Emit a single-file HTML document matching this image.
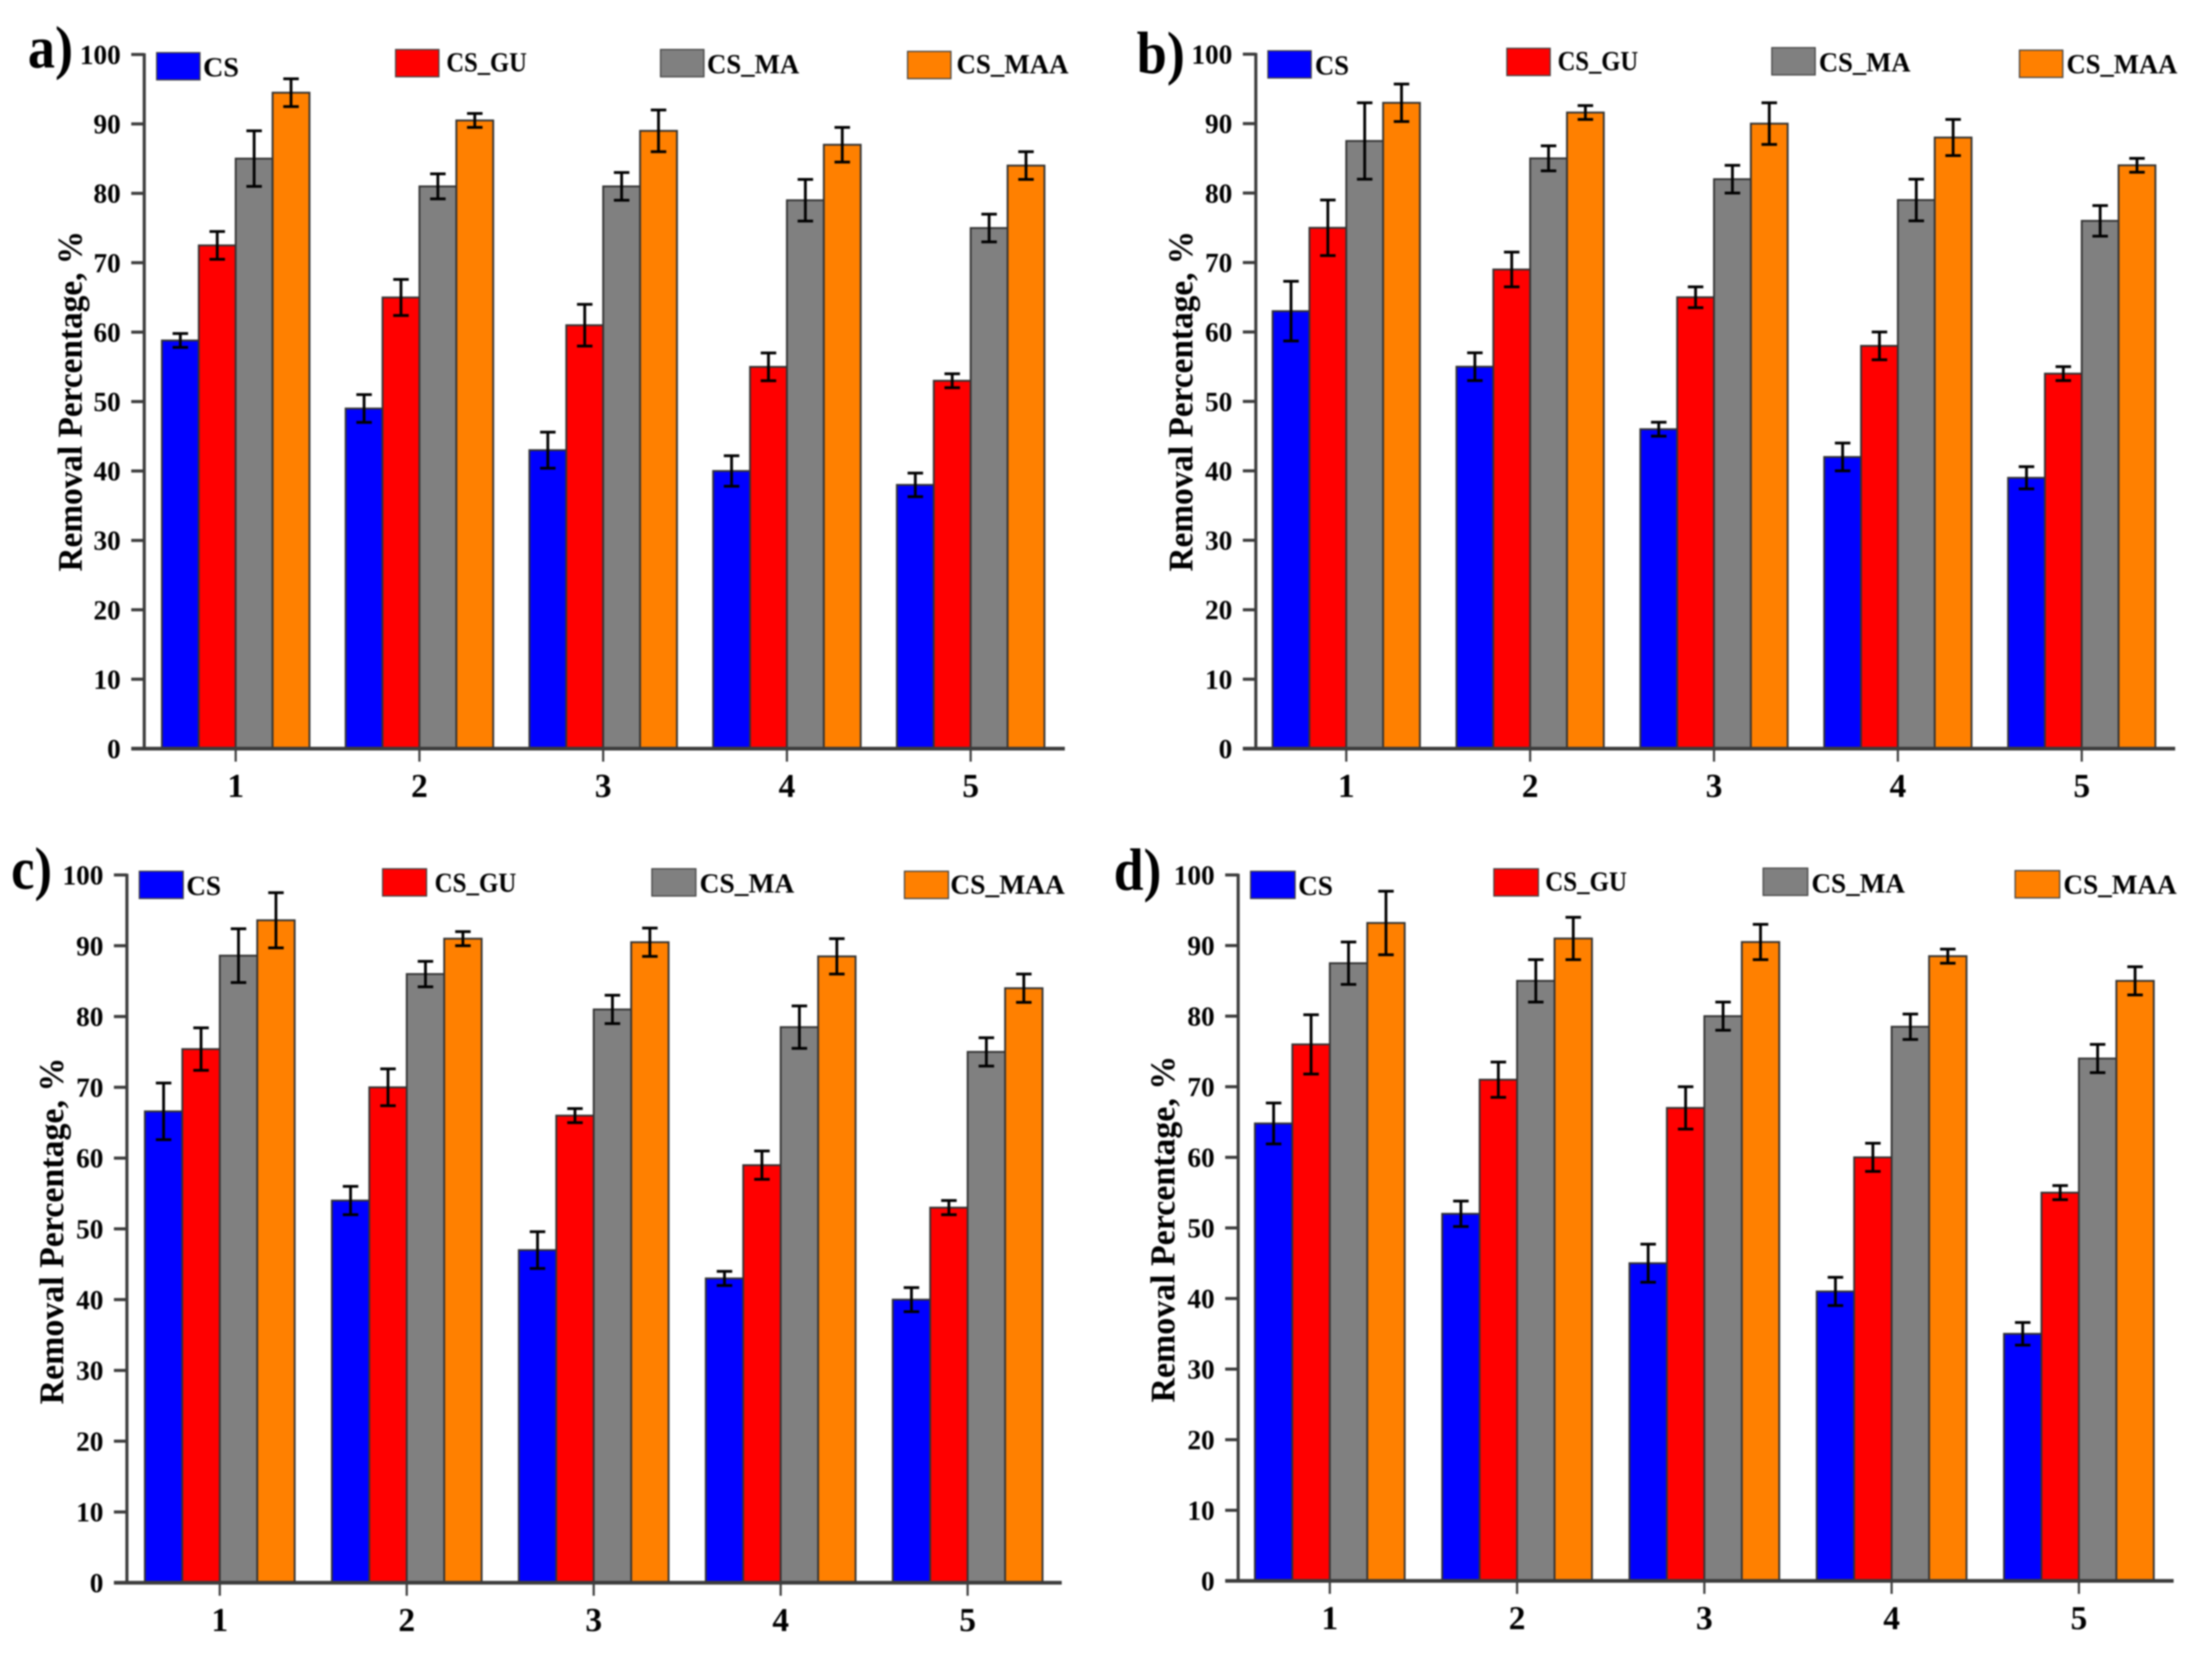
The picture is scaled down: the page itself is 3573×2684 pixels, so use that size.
<!DOCTYPE html>
<html lang="en">
<head>
<meta charset="utf-8">
<title>Removal Percentage panels</title>
<style>
html,body{margin:0;padding:0;background:#fff;}
svg{display:block;filter:blur(1.3px);}
text{font-family:"Liberation Serif",serif;font-weight:700;fill:#000;}
</style>
</head>
<body>
<svg id="figure" xmlns="http://www.w3.org/2000/svg" width="3573" height="2684" viewBox="0 0 3573 2684">
<rect width="3573" height="2684" fill="#fff"></rect>
</svg>
<script>
const categories = ['1', '2', '3', '4', '5'];
const yTicks = [0, 10, 20, 30, 40, 50, 60, 70, 80, 90, 100];
const seriesNames = ['CS', 'CS_GU', 'CS_MA', 'CS_MAA'];
const yAxisLabel = 'Removal Percentage, %';

const panelACS = [58.8, 49, 43, 40, 38];
const panelACSErr = [1, 2, 2.6, 2.2, 1.7];
const panelAGU = [72.5, 65, 61, 55, 53];
const panelAGUErr = [2, 2.6, 3, 2, 1];
const panelAMA = [85, 81, 81, 79, 75];
const panelAMAErr = [4, 1.8, 2, 3, 2];
const panelAMAA = [94.5, 90.5, 89, 87, 84];
const panelAMAAErr = [2, 1, 3, 2.5, 2];

const panelBCS = [63, 55, 46, 42, 39];
const panelBCSErr = [4.3, 2, 1, 2, 1.6];
const panelBGU = [75, 69, 65, 58, 54];
const panelBGUErr = [4, 2.5, 1.5, 2, 1];
const panelBMA = [87.5, 85, 82, 79, 76];
const panelBMAErr = [5.5, 1.8, 2, 3, 2.2];
const panelBMAA = [93, 91.6, 90, 88, 84];
const panelBMAAErr = [2.7, 1, 3, 2.6, 1];

const panelCCS = [66.6, 54, 47, 43, 40];
const panelCCSErr = [4, 2, 2.6, 1, 1.7];
const panelCGU = [75.4, 70, 66, 59, 53];
const panelCGUErr = [3, 2.6, 1, 2, 1];
const panelCMA = [88.6, 86, 81, 78.5, 75];
const panelCMAErr = [3.8, 1.8, 2, 3, 2];
const panelCMAA = [93.6, 91, 90.5, 88.5, 84];
const panelCMAAErr = [3.9, 1, 2, 2.5, 2];

const panelDCS = [64.8, 52, 45, 41, 35];
const panelDCSErr = [2.9, 1.8, 2.7, 2, 1.6];
const panelDGU = [76, 71, 67, 60, 55];
const panelDGUErr = [4.2, 2.5, 3, 2, 1];
const panelDMA = [87.5, 85, 80, 78.5, 74];
const panelDMAErr = [3, 3, 2, 1.8, 2];
const panelDMAA = [93.2, 91, 90.5, 88.5, 85];
const panelDMAAErr = [4.5, 3, 2.5, 1, 2];

const SVGNS = 'http://www.w3.org/2000/svg';
const svg = document.getElementById('figure');
const seriesColors = ['#0000ff', '#ff0000', '#808080', '#ff8000'];

function make(parent, tag, attrs, text) {
  const el = document.createElementNS(SVGNS, tag);
  for (const k in attrs) el.setAttribute(k, attrs[k]);
  if (text !== undefined) el.textContent = text;
  parent.appendChild(el);
  return el;
}

function drawPanel(cfg) {
  const g = make(svg, 'g', {});
  
  

  const yScale = v => cfg.yBase - (cfg.yBase - cfg.yTop) * v / 100;
  const xScale = i => cfg.tick1 + cfg.step * i;

  cfg.values.forEach((vals, s) => {
    const sg = make(g, 'g', {});
    
    
    vals.forEach((v, i) => {
      const left = xScale(i) + (s - 2) * cfg.barW;
      const bar = make(sg, 'rect', {
        x: left, y: yScale(v), width: cfg.barW, height: cfg.yBase - yScale(v),
        fill: seriesColors[s], stroke: '#333', 'stroke-width': 3
      });
      
      
    });
  });

  cfg.values.forEach((vals, s) => {
    vals.forEach((v, i) => {
      const cx = xScale(i) + (s - 1.5) * cfg.barW;
      const e = cfg.errors[s][i];
      const top = yScale(v + e);
      const bot = yScale(v - e);
      const eg = make(g, 'path', {
        d: 'M' + cx + ' ' + top + 'V' + bot + 'M' + (cx - 12.5) + ' ' + top + 'H' + (cx + 12.5) + 'M' + (cx - 12.5) + ' ' + bot + 'H' + (cx + 12.5),
        fill: 'none', stroke: '#000', 'stroke-width': 4.5
      });
      
      
    });
  });

  const yAxis = make(g, 'line', {
    x1: cfg.axisX, x2: cfg.axisX, y1: cfg.yTop - 2, y2: cfg.yBase,
    stroke: '#3c3c3c', 'stroke-width': 5
  });
  
  

  const xAxis = make(g, 'line', {
    x1: cfg.axisX - 21, x2: cfg.axisEnd, y1: cfg.yBase, y2: cfg.yBase,
    stroke: '#3c3c3c', 'stroke-width': 6
  });
  
  

  yTicks.forEach(t => {
    const y = yScale(t);
    const tick = make(g, 'line', {
      x1: cfg.axisX - 21, x2: cfg.axisX, y1: y, y2: y,
      stroke: '#3c3c3c', 'stroke-width': 5
    });
    
    
    const label = make(g, 'text', {
      x: cfg.axisX - 38, y: y + 15, 'text-anchor': 'end', 'font-size': 44
    }, String(t));
    
    
  });

  categories.forEach((c, i) => {
    const x = xScale(i);
    const tick = make(g, 'line', {
      x1: x, x2: x, y1: cfg.yBase, y2: cfg.yBase + 21,
      stroke: '#3c3c3c', 'stroke-width': 3.5
    });
    
    
    const label = make(g, 'text', {
      x: x, y: cfg.yBase + 78, 'text-anchor': 'middle', 'font-size': 54
    }, c);
    
    
  });

  const title = make(g, 'text', {
    transform: 'translate(' + cfg.titleX + ' ' + cfg.titleY + ') rotate(-90)',
    'text-anchor': 'middle', 'font-size': 56,
    textLength: cfg.titleLen, lengthAdjust: 'spacingAndGlyphs'
  }, yAxisLabel);
  
  

  const tag = make(g, 'text', {
    x: cfg.tagX, y: cfg.tagY, 'font-size': 96,
    textLength: cfg.tagLen, lengthAdjust: 'spacingAndGlyphs'
  }, cfg.id + ')');
  
  

  cfg.legend.forEach((e, s) => {
    const lg = make(g, 'g', {});
    
    
    const sw = make(lg, 'rect', {
      x: e.sx, y: e.sy, width: cfg.swatchW, height: 44,
      fill: seriesColors[s], stroke: '#444', 'stroke-width': 2
    });
    
    
    const lbl = make(lg, 'text', {
      x: e.tx, y: e.ty, 'font-size': 44,
      textLength: e.tl, lengthAdjust: 'spacingAndGlyphs'
    }, seriesNames[s]);
    
    
  });
}

drawPanel({
  id: 'a', axisX: 233, axisEnd: 1720, yTop: 88, yBase: 1209, tick1: 380.7, step: 296.8, barW: 59.6, swatchW: 70,
  titleX: 132, titleY: 648, titleLen: 550, tagX: 45, tagY: 109, tagLen: 73,
  values: [panelACS, panelAGU, panelAMA, panelAMAA],
  errors: [panelACSErr, panelAGUErr, panelAMAErr, panelAMAAErr],
  legend: [
    {sx: 253, sy: 85, tx: 328, ty: 123, tl: 58},
    {sx: 639, sy: 80, tx: 721, ty: 115, tl: 130},
    {sx: 1067, sy: 80, tx: 1142, ty: 118, tl: 149},
    {sx: 1466, sy: 83, tx: 1545, ty: 118, tl: 181}
  ]
});
drawPanel({
  id: 'b', axisX: 2028.5, axisEnd: 3513.5, yTop: 87.5, yBase: 1209, tick1: 2174.6, step: 297, barW: 59.5, swatchW: 70,
  titleX: 1926, titleY: 648, titleLen: 550, tagX: 1836, tagY: 118, tagLen: 78,
  values: [panelBCS, panelBGU, panelBMA, panelBMAA],
  errors: [panelBCSErr, panelBGUErr, panelBMAErr, panelBMAAErr],
  legend: [
    {sx: 2048, sy: 82, tx: 2124, ty: 120, tl: 55},
    {sx: 2434, sy: 78, tx: 2516, ty: 113, tl: 130},
    {sx: 2862, sy: 77, tx: 2938, ty: 115, tl: 148},
    {sx: 3262, sy: 81, tx: 3338, ty: 118, tl: 179}
  ]
});
drawPanel({
  id: 'c', axisX: 205, axisEnd: 1715, yTop: 1413, yBase: 2556, tick1: 355, step: 302, barW: 60.5, swatchW: 71,
  titleX: 102, titleY: 1988, titleLen: 560, tagX: 18, tagY: 1435, tagLen: 66,
  values: [panelCCS, panelCGU, panelCMA, panelCMAA],
  errors: [panelCCSErr, panelCGUErr, panelCMAErr, panelCMAAErr],
  legend: [
    {sx: 225, sy: 1407, tx: 301, ty: 1445, tl: 56},
    {sx: 618, sy: 1403, tx: 702, ty: 1440, tl: 132},
    {sx: 1053, sy: 1403, tx: 1130, ty: 1441, tl: 153},
    {sx: 1461, sy: 1407, tx: 1535, ty: 1443, tl: 185}
  ]
});
drawPanel({
  id: 'd', axisX: 2000, axisEnd: 3511, yTop: 1413, yBase: 2553, tick1: 2148, step: 302.5, barW: 60.5, swatchW: 72,
  titleX: 1897, titleY: 1985, titleLen: 560, tagX: 1799, tagY: 1437, tagLen: 77,
  values: [panelDCS, panelDGU, panelDMA, panelDMAA],
  errors: [panelDCSErr, panelDGUErr, panelDMAErr, panelDMAAErr],
  legend: [
    {sx: 2020, sy: 1407, tx: 2097, ty: 1445, tl: 56},
    {sx: 2413, sy: 1403, tx: 2496, ty: 1438, tl: 132},
    {sx: 2848, sy: 1402, tx: 2926, ty: 1441, tl: 151},
    {sx: 3255, sy: 1406, tx: 3333, ty: 1443, tl: 183}
  ]
});
</script>
</body>
</html>
